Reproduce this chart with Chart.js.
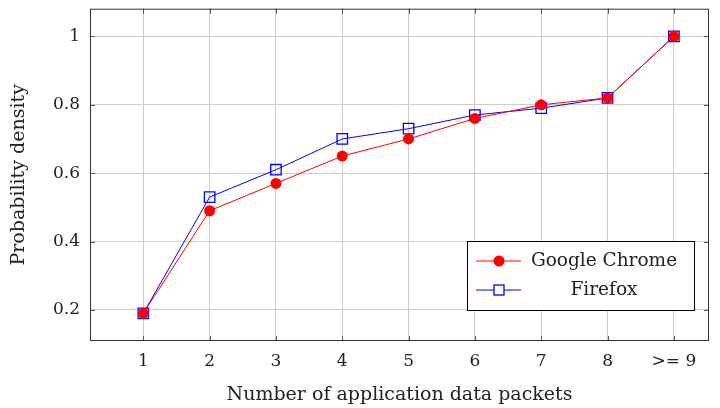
<!DOCTYPE html>
<html>
<head>
<meta charset="utf-8">
<script src="https://cdn.jsdelivr.net/npm/chart.js@4"></script>
<style>
  html, body { margin: 0; padding: 0; background: #fff; }
  #wrap { width: 720px; height: 408px; }
</style>
</head>
<body>
<div id="wrap"><canvas id="packetChart"></canvas></div>
<script>
const packetCounts = [1, 2, 3, 4, 5, 6, 7, 8, 9];
const tickNames = ['1', '2', '3', '4', '5', '6', '7', '8', '>= 9'];
const chromeValues = [0.19, 0.49, 0.57, 0.65, 0.70, 0.76, 0.80, 0.82, 1.0];
const firefoxValues = [0.19, 0.53, 0.61, 0.70, 0.73, 0.77, 0.79, 0.82, 1.0];
const yTicks = [0.2, 0.4, 0.6, 0.8, 1];

const serif = "'DejaVu Serif', 'Liberation Serif', serif";

/* petits traits de graduation à l'intérieur du cadre */
const frameTicks = {
    id: 'frameTicks',
    afterDatasetsDraw(chart) {
        const { ctx, chartArea: a, scales: { x, y } } = chart;
        ctx.save();
        ctx.strokeStyle = '#555';
        ctx.lineWidth = 1;
        ctx.beginPath();
        packetCounts.forEach(v => {
            const px = Math.round(x.getPixelForValue(v)) + 0.5;
            ctx.moveTo(px, a.bottom); ctx.lineTo(px, a.bottom - 5);
            ctx.moveTo(px, a.top); ctx.lineTo(px, a.top + 5);
        });
        yTicks.forEach(v => {
            const py = Math.round(y.getPixelForValue(v)) + 0.5;
            ctx.moveTo(a.left, py); ctx.lineTo(a.left + 5, py);
            ctx.moveTo(a.right, py); ctx.lineTo(a.right - 5, py);
        });
        ctx.stroke();
        ctx.strokeStyle = '#333';
        ctx.strokeRect(a.left + 0.5, a.top + 0.5, a.right - a.left - 1, a.bottom - a.top - 1);
        ctx.restore();
    }
};

/* légende encadrée dans le coin bas droit */
const boxLegend = {
    id: 'boxLegend',
    afterDraw(chart) {
        const { ctx, chartArea: a } = chart;
        const bx = a.right - 242, by = a.bottom - 100, bw = 227, bh = 69;
        ctx.save();
        ctx.fillStyle = '#fff';
        ctx.fillRect(bx, by, bw, bh);
        ctx.strokeStyle = '#000';
        ctx.lineWidth = 1;
        ctx.strokeRect(bx + 0.5, by + 0.5, bw, bh);
        ctx.font = '18.5px ' + serif;
        ctx.textBaseline = 'middle';
        chart.data.datasets.forEach((ds, i) => {
            const cy = by + 20 + i * 29;
            ctx.strokeStyle = ds.borderColor;
            ctx.lineWidth = 1;
            ctx.beginPath();
            ctx.moveTo(bx + 9, cy); ctx.lineTo(bx + 54, cy);
            ctx.stroke();
            if (ds.pointStyle === 'circle') {
                ctx.fillStyle = ds.pointBackgroundColor;
                ctx.beginPath();
                ctx.arc(bx + 32, cy, 5.5, 0, Math.PI * 2);
                ctx.fill();
            } else {
                ctx.strokeStyle = ds.pointBorderColor;
                ctx.lineWidth = 1.3;
                ctx.fillStyle = '#fff';
                ctx.fillRect(bx + 27, cy - 5, 10, 10);
                ctx.strokeRect(bx + 27, cy - 5, 10, 10);
            }
            ctx.fillStyle = '#222';
            ctx.textAlign = 'center';
            ctx.fillText(ds.label, bx + 137, cy);
        });
        ctx.restore();
    }
};

new Chart(document.getElementById('packetChart'), {
    type: 'line',
    data: {
        datasets: [{
            label: 'Google Chrome',
            data: packetCounts.map((v, i) => ({ x: v, y: chromeValues[i] })),
            borderColor: '#ff0000',
            borderWidth: 1,
            pointStyle: 'circle',
            pointRadius: 5.5,
            pointBackgroundColor: '#ff0000',
            pointBorderColor: '#ff0000',
            pointBorderWidth: 0,
            tension: 0
        }, {
            label: 'Firefox',
            data: packetCounts.map((v, i) => ({ x: v, y: firefoxValues[i] })),
            borderColor: '#0000ff',
            borderWidth: 1,
            pointStyle: 'rect',
            pointRadius: 7.4,
            pointBackgroundColor: 'rgba(0,0,0,0)',
            pointBorderColor: '#0000ff',
            pointBorderWidth: 1.3,
            tension: 0
        }]
    },
    options: {
        responsive: true,
        maintainAspectRatio: false,
        animation: false,
        layout: { padding: { top: 7, right: 11, left: 0, bottom: 0 } },
        plugins: {
            legend: { display: false },
            tooltip: { enabled: false }
        },
        scales: {
            x: {
                type: 'linear',
                min: 0.196,
                max: 9.53,
                afterFit: s => { s.height = 67; s.paddingLeft = 0; s.paddingRight = 0; },
                afterBuildTicks: s => { s.ticks = packetCounts.map(v => ({ value: v })); },
                grid: { color: '#cccccc', drawTicks: false },
                border: { display: false },
                ticks: {
                    color: '#222',
                    padding: 10,
                    font: { family: serif, size: 17 },
                    callback: v => tickNames[packetCounts.indexOf(v)]
                },
                title: {
                    display: true,
                    text: 'Number of application data packets',
                    color: '#222',
                    font: { family: serif, size: 19 },
                    padding: { top: 0, bottom: 2 }
                }
            },
            y: {
                min: 0.109,
                max: 1.081,
                afterFit: s => { s.width = 90; s.paddingTop = 0; s.paddingBottom = 0; },
                afterBuildTicks: s => { s.ticks = yTicks.map(v => ({ value: v })); },
                grid: { color: '#cccccc', drawTicks: false },
                border: { display: false },
                ticks: {
                    color: '#222',
                    padding: 10,
                    font: { family: serif, size: 17 },
                    callback: v => String(v)
                },
                title: {
                    display: true,
                    text: 'Probability density',
                    color: '#222',
                    font: { family: serif, size: 19 },
                    padding: { top: 8, bottom: 0 }
                }
            }
        }
    },
    plugins: [frameTicks, boxLegend]
});
</script>
</body>
</html>
